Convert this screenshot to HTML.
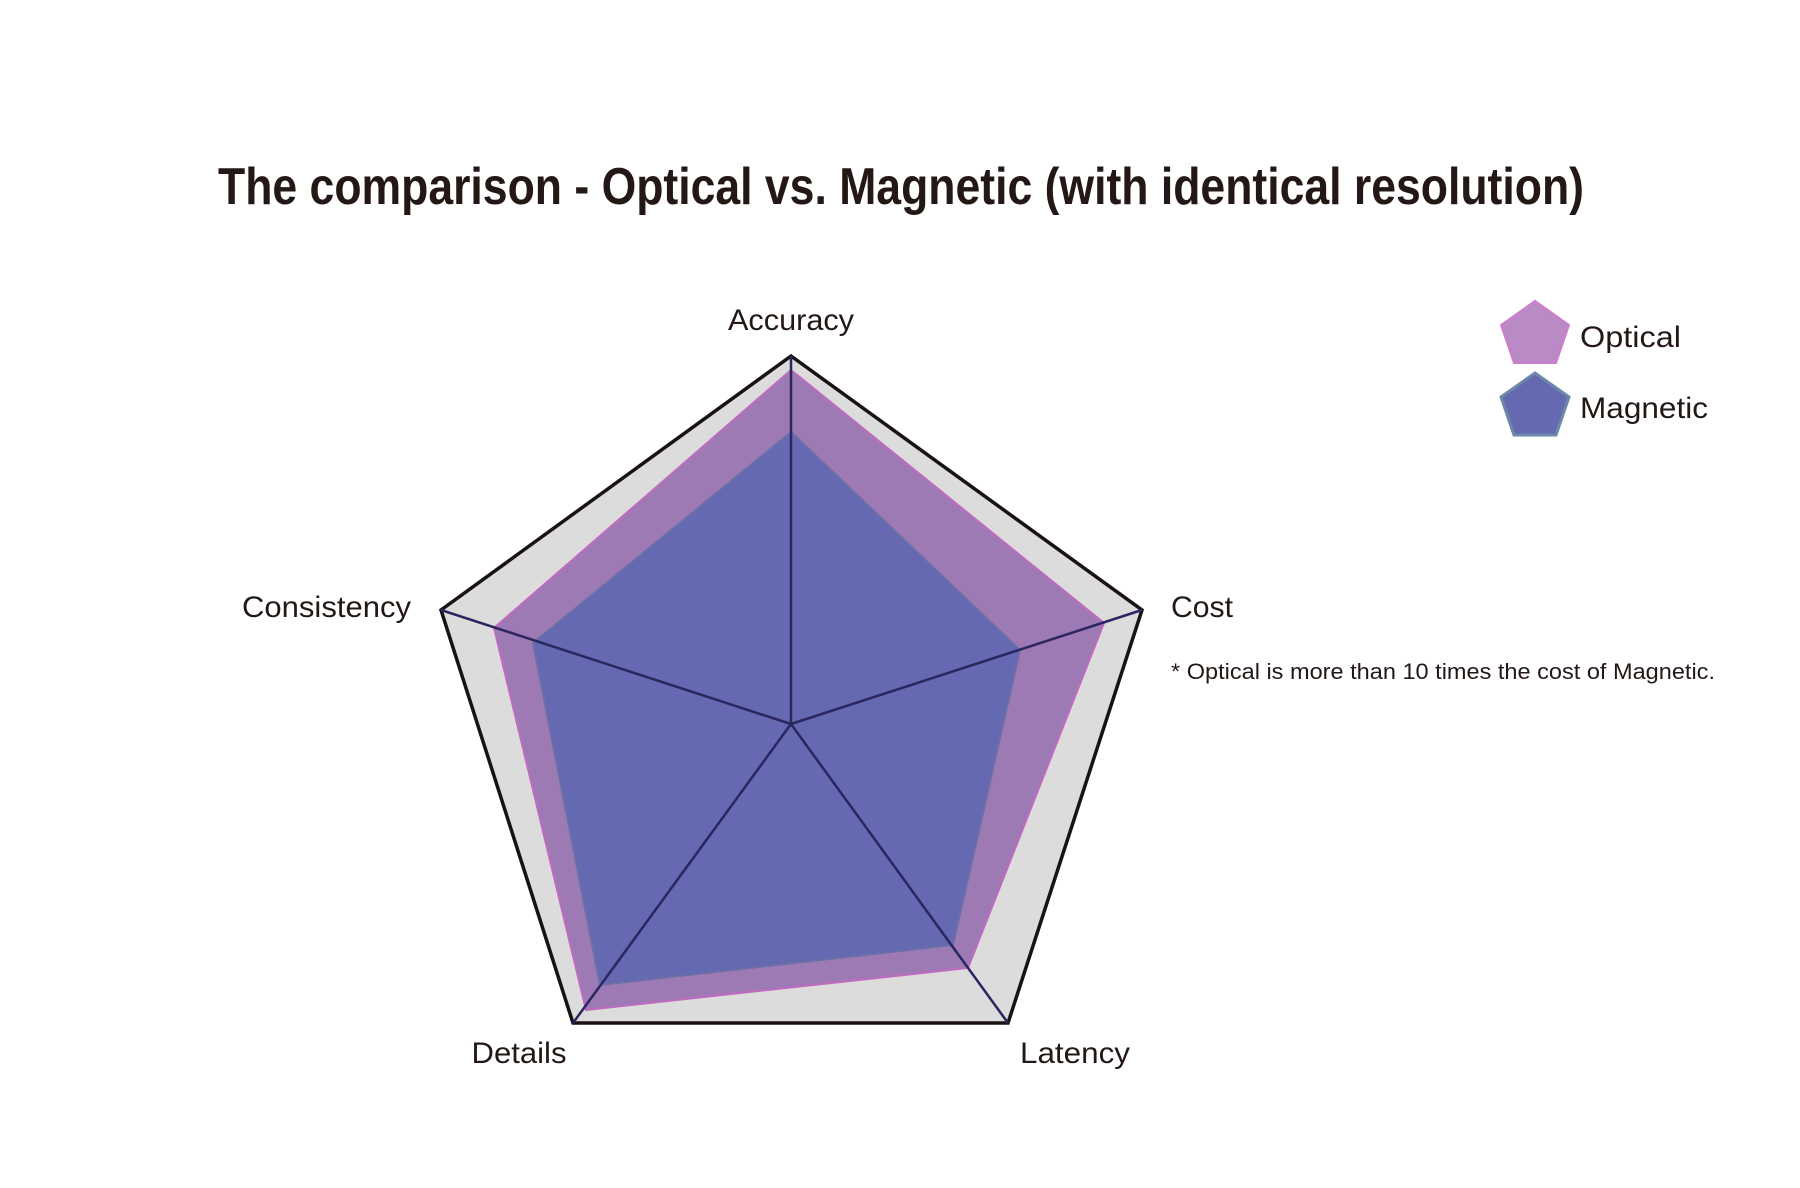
<!DOCTYPE html>
<html><head><meta charset="utf-8"><style>body{margin:0;background:#fff}</style></head><body>
<svg width="1800" height="1183" viewBox="0 0 1800 1183" xmlns="http://www.w3.org/2000/svg" font-family="'Liberation Sans', sans-serif">
<text x="901" y="204" text-anchor="middle" font-size="52" font-weight="bold" fill="#231815" textLength="1366" lengthAdjust="spacingAndGlyphs">The comparison - Optical vs. Magnetic (with identical resolution)</text>
<polygon points="791,356 1142,610 1008,1023 573,1023 441,610" fill="#dcdcdc" stroke="#1a1212" stroke-width="3.5"/>
<polygon points="791,370 1104,623 968,968 586,1010 494,628" fill="#9e7ab4" stroke="#c06bc0" stroke-width="2"/>
<polygon points="791,432 1020,650 953,945 600,985 533,643" fill="#6569b1" stroke="#6a6fa8" stroke-width="2"/>
<g stroke="#2a2660" stroke-width="2.5">
<line x1="791" y1="724" x2="791" y2="356"/><line x1="791" y1="724" x2="1142" y2="610"/><line x1="791" y1="724" x2="1008" y2="1023"/><line x1="791" y1="724" x2="573" y2="1023"/><line x1="791" y1="724" x2="441" y2="610"/>
</g>
<g font-size="30" fill="#231815">
<text x="791" y="330" text-anchor="middle" textLength="126" lengthAdjust="spacingAndGlyphs">Accuracy</text>
<text x="411" y="617" text-anchor="end" textLength="169" lengthAdjust="spacingAndGlyphs">Consistency</text>
<text x="1171" y="617" textLength="62" lengthAdjust="spacingAndGlyphs">Cost</text>
<text x="519" y="1063" text-anchor="middle" textLength="95" lengthAdjust="spacingAndGlyphs">Details</text>
<text x="1075" y="1063" text-anchor="middle" textLength="110" lengthAdjust="spacingAndGlyphs">Latency</text>
<text x="1171" y="679" font-size="22" textLength="544" lengthAdjust="spacingAndGlyphs">* Optical is more than 10 times the cost of Magnetic.</text>
<text x="1580" y="347" textLength="101" lengthAdjust="spacingAndGlyphs">Optical</text>
<text x="1580" y="418" textLength="128" lengthAdjust="spacingAndGlyphs">Magnetic</text>
</g>
<polygon points="1535,301 1569,325 1556,363 1514,363 1501,325" fill="#b98ac5" stroke="#d07ccd" stroke-width="2"/>
<polygon points="1535,373 1569,397 1556,435 1514,435 1501,397" fill="#6569b1" stroke="#6b88a8" stroke-width="3"/>
</svg>
</body></html>
